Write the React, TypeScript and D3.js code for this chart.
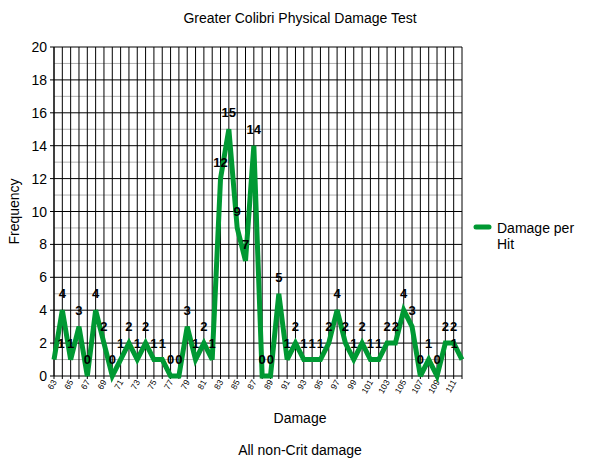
import React from "react";
import * as d3 from "d3";

const damage: number[] = d3.range(63, 113);
const frequency: number[] = [
  1, 4, 1, 3, 0, 4, 2, 0, 1, 2,
  1, 2, 1, 1, 0, 0, 3, 1, 2, 1,
  12, 15, 9, 7, 14, 0, 0, 5, 1, 2,
  1, 1, 1, 2, 4, 2, 1, 2, 1, 1,
  2, 2, 4, 3, 0, 1, 0, 2, 2, 1,
];
const xTickLabels: number[] = d3.range(63, 112, 2);
const yTicks: number[] = d3.range(0, 21, 2);
const yMinor: number[] = d3.range(1, 20, 2);
const title = "Greater Colibri Physical Damage Test";
const xTitle = "Damage";
const yTitle = "Frequency";
const subTitle = "All non-Crit damage";
const seriesName = ["Damage per", "Hit"];

const W = 600, H = 463;
const left = 54, right = 462, top = 47, bottom = 376;
const FONT = "Liberation Sans, Arial, sans-serif";
const GREEN = "#009933";

export default function App() {
  const x = d3.scaleLinear().domain([63, 112]).range([left, right]);
  const y = d3.scaleLinear().domain([0, 20]).range([bottom, top]);
  const pts: [number, number][] = damage.map((d, i) => [d, frequency[i]]);
  const line = d3.line<[number, number]>().x(d => x(d[0])).y(d => y(d[1]));

  return (
    <svg width={W} height={H} style={{ position: "absolute", left: 0, top: 0 }} fontFamily={FONT}>
      <rect width={W} height={H} fill="#fff" />
      <text x={300} y={23} textAnchor="middle" fontSize={14}>{title}</text>
      {yMinor.map(v => (
        <line key={"m" + v} x1={left} x2={right} y1={y(v)} y2={y(v)} stroke="#b0b0b0" strokeWidth={1} />
      ))}
      {damage.map(d => (
        <line key={"v" + d} x1={x(d)} x2={x(d)} y1={top} y2={bottom + 3} stroke="#000" strokeWidth={1} />
      ))}
      {yTicks.map(v => (
        <line key={"h" + v} x1={left - 4} x2={right} y1={y(v)} y2={y(v)} stroke="#000" strokeWidth={1} />
      ))}
      <line x1={left} x2={left} y1={top} y2={bottom} stroke="#000" />
      {yTicks.map(v => (
        <text key={"yt" + v} x={left - 7} y={y(v) + 5} textAnchor="end" fontSize={14}>{v}</text>
      ))}
      {xTickLabels.map(d => (
        <text key={"xt" + d} transform={`translate(${x(d) + 3},${bottom + 6}) rotate(-60)`} textAnchor="end" fontSize={8.5}>{d}</text>
      ))}
      <path d={line(pts) || ""} fill="none" stroke={GREEN} strokeWidth={5} strokeLinejoin="miter" strokeMiterlimit={3} />
      {pts.map(([d, v]) => {
        const lx = Math.min(Math.max(x(d), left + 7), right - 8);
        return (
          <text key={"l" + d} x={lx} y={y(v) - 12} textAnchor="middle" fontSize={13} fontWeight="bold">{v}</text>
        );
      })}
      <text x={300} y={423} textAnchor="middle" fontSize={14}>{xTitle}</text>
      <text x={300} y={455} textAnchor="middle" fontSize={14}>{subTitle}</text>
      <text transform={`translate(19,${(top + bottom) / 2}) rotate(-90)`} textAnchor="middle" fontSize={14}>{yTitle}</text>
      <line x1={476} x2={489} y1={227} y2={227} stroke={GREEN} strokeWidth={5} strokeLinecap="round" />
      <text x={497} y={233} fontSize={14}>{seriesName[0]}</text>
      <text x={497} y={249} fontSize={14}>{seriesName[1]}</text>
    </svg>
  );
}
